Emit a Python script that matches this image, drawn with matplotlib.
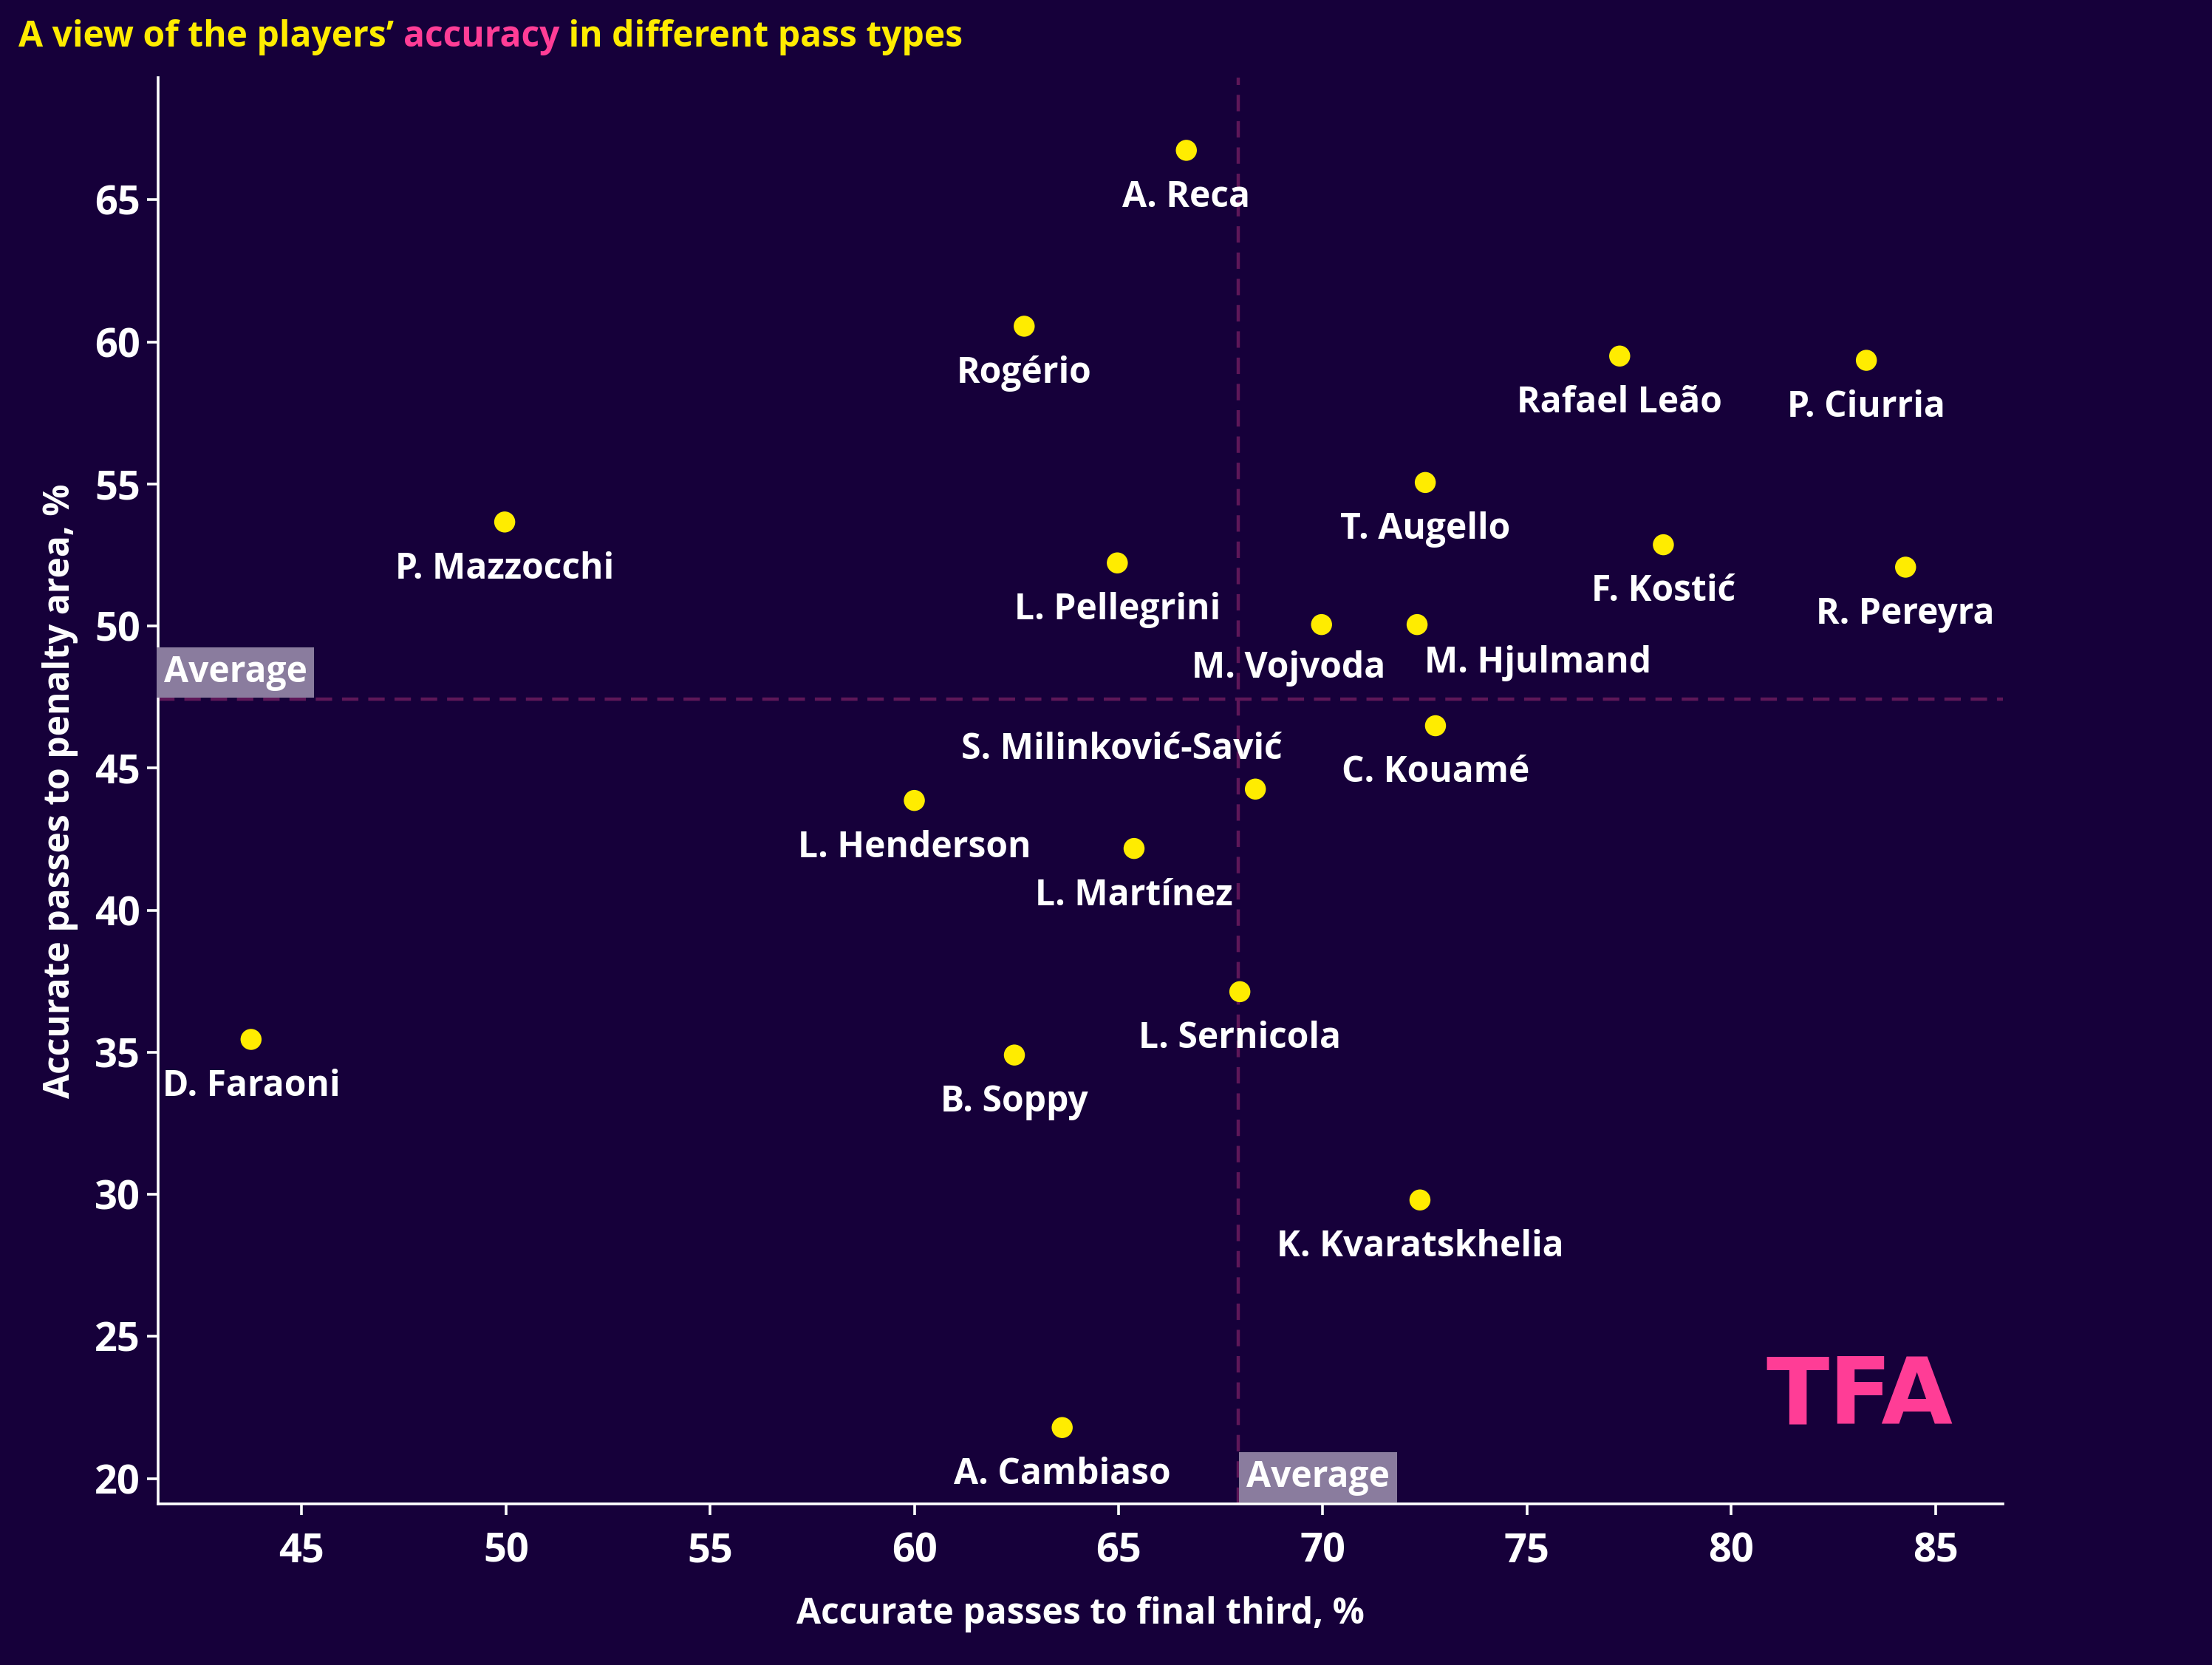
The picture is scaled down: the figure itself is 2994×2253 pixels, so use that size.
import matplotlib
matplotlib.use("Agg")
import matplotlib.pyplot as plt

# ---- data ----
players = ["A. Reca", "Rogério", "Rafael Leão", "P. Ciurria", "T. Augello",
           "P. Mazzocchi", "L. Pellegrini", "F. Kostić", "R. Pereyra",
           "M. Vojvoda", "M. Hjulmand", "C. Kouamé", "S. Milinković-Savić",
           "L. Henderson", "L. Martínez", "L. Sernicola", "D. Faraoni",
           "B. Soppy", "K. Kvaratskhelia", "A. Cambiaso"]
final_third = [66.66, 62.69, 77.27, 83.31, 72.51,
               49.97, 64.97, 78.34, 84.27,
               69.97, 72.31, 72.76, 68.35,
               60.0, 65.38, 67.97, 43.76,
               62.45, 72.38, 63.62]
penalty_area = [66.74, 60.55, 59.5, 59.35, 55.05,
                53.66, 52.22, 52.86, 52.07,
                50.05, 50.05, 46.49, 44.26,
                43.86, 42.17, 37.13, 35.45,
                34.9, 29.8, 21.79]
avg_x = 67.93
avg_y = 47.42
x_ticks = [45, 50, 55, 60, 65, 70, 75, 80, 85]
y_ticks = [20, 25, 30, 35, 40, 45, 50, 55, 60, 65]

# label offsets (points): default below the marker
label_offsets = {
    "M. Vojvoda": (-16, -21.5),
    "M. Hjulmand": (59, -19),
    "S. Milinković-Savić": (-65, 19),
}
default_offset = (0, -23)

# ---- style ----
BG = "#16003a"
YELLOW = "#ffec00"
PINK = "#ff3d96"
DASH = "#5e1758"
FONT = ["Open Sans", "DejaVu Sans"]
plt.rcParams["font.family"] = FONT
FS = 17.3

fig = plt.figure(figsize=(14.97, 11.265), dpi=200, facecolor=BG)
ax = fig.add_axes([0.0714, 0.0967, 0.8342, 0.8567], facecolor=BG)

ax.set_xlim(41.48, 86.66)
ax.set_ylim(19.1, 69.3)

ax.axvline(avg_x, color=DASH, lw=1.6, ls=(0, (5, 3)), zorder=1)
ax.axhline(avg_y, color=DASH, lw=1.6, ls=(0, (5, 3)), zorder=1)

ax.scatter(final_third, penalty_area, s=105, color=YELLOW, edgecolor="none", zorder=3)

for name, x, y in zip(players, final_third, penalty_area):
    dx, dy = label_offsets.get(name, default_offset)
    ax.annotate(name, (x, y), xytext=(dx, dy), textcoords="offset points",
                ha="center", va="center", color="white", fontsize=FS,
                fontweight="bold", zorder=4)

box = dict(boxstyle="square,pad=0.2", facecolor="#8a7c9e", edgecolor="none")
ax.text(41.62, avg_y + 0.3, "Average", ha="left", va="bottom", color="white",
        fontsize=FS, fontweight="bold", bbox=box, zorder=5)
ax.text(avg_x + 0.2, 19.4, "Average", ha="left", va="bottom", color="white",
        fontsize=FS, fontweight="bold", bbox=box, zorder=5)

for s in ["top", "right"]:
    ax.spines[s].set_visible(False)
for s in ["left", "bottom"]:
    ax.spines[s].set_color("white")
    ax.spines[s].set_linewidth(1.3)

ax.set_xticks(x_ticks)
ax.set_yticks(y_ticks)
ax.tick_params(colors="white", labelsize=19.5, length=5.5, width=1.3)
ax.tick_params(axis="x", pad=8)
ax.tick_params(axis="y", pad=3)
for lbl in ax.get_xticklabels() + ax.get_yticklabels():
    lbl.set_fontweight("bold")

ax.set_xlabel("Accurate passes to final third, %", color="white", fontsize=FS,
              fontweight="bold", labelpad=12)
ax.set_ylabel("Accurate passes to penalty area, %", color="white", fontsize=FS,
              fontweight="bold", labelpad=8)

# title with coloured word
TY = 0.9886
t1 = fig.text(0.0085, TY, "A view of the players’ ", color=YELLOW, fontsize=17.3,
              fontweight="bold", ha="left", va="top")
t2 = fig.text(0, 0, "accuracy", color=PINK, fontsize=17.3, fontweight="bold")
t3 = fig.text(0, 0, " in different pass types", color=YELLOW, fontsize=17.3, fontweight="bold")
fig.canvas.draw()
r = fig.canvas.get_renderer()
bb1 = t1.get_window_extent(r)
t2.set_position((bb1.x1 / fig.bbox.width, TY)); t2.set_va("top")
bb2 = t2.get_window_extent(r)
t3.set_position((bb2.x1 / fig.bbox.width, TY)); t3.set_va("top")

# logo
fig.text(0.7985, 0.1450, "TFA", color=PINK, fontsize=45, fontweight="heavy",
         family="DejaVu Sans", ha="left", va="baseline")

fig.savefig("out.png", dpi=200, facecolor=BG)
